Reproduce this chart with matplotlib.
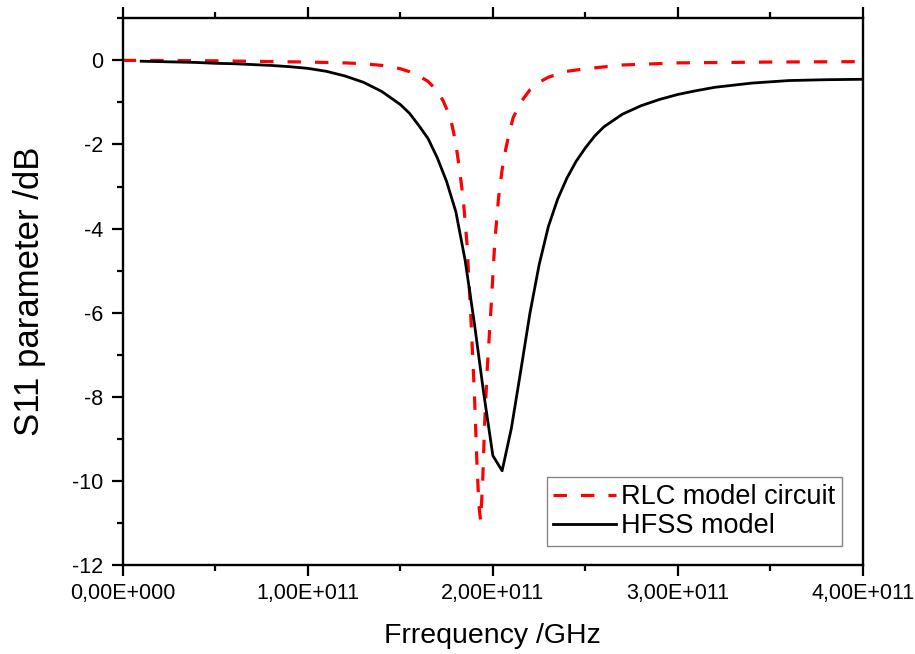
import matplotlib
matplotlib.use("Agg")
import matplotlib.pyplot as plt
from matplotlib.ticker import FuncFormatter, MultipleLocator
import numpy as np

plt.rcParams['font.family'] = ['Liberation Sans', 'DejaVu Sans']
plt.rcParams['axes.unicode_minus'] = False

# RLC equivalent circuit response (frequency in units of 1e11 Hz, S11 in dB)
rlc_freq = [0.00, 0.50, 1.00, 1.20, 1.30, 1.40, 1.45, 1.50, 1.55, 1.60, 1.65,
            1.70, 1.73, 1.76, 1.78, 1.80, 1.82, 1.84, 1.86, 1.88, 1.90, 1.915,
            1.925, 1.934, 1.945, 1.955, 1.97, 1.99, 2.01, 2.03, 2.05, 2.07,
            2.09, 2.11, 2.15, 2.20, 2.25, 2.30, 2.40, 2.50, 2.70, 3.00, 3.50,
            4.00]
rlc_s11 = [0.00, -0.01, -0.04, -0.06, -0.08, -0.12, -0.15, -0.20, -0.27, -0.37,
           -0.50, -0.73, -0.95, -1.25, -1.55, -1.98, -2.60, -3.30, -4.35, -6.00,
           -7.90, -9.70, -10.60, -10.95, -10.00, -8.70, -7.30, -5.90, -4.35,
           -3.30, -2.60, -2.10, -1.70, -1.36, -1.00, -0.70, -0.52, -0.40, -0.26,
           -0.20, -0.11, -0.06, -0.04, -0.03]

# HFSS full-wave simulation
hfss_freq = [0.10, 0.20, 0.30, 0.40, 0.50, 0.60, 0.70, 0.80, 0.90, 1.00, 1.10,
             1.20, 1.30, 1.40, 1.50, 1.55, 1.60, 1.65, 1.70, 1.75, 1.80, 1.85,
             1.90, 1.95, 2.00, 2.05, 2.10, 2.15, 2.20, 2.25, 2.30, 2.35, 2.40,
             2.45, 2.50, 2.55, 2.60, 2.70, 2.80, 2.90, 3.00, 3.10, 3.20, 3.40,
             3.60, 3.80, 4.00]
hfss_s11 = [-0.02, -0.03, -0.04, -0.05, -0.07, -0.08, -0.10, -0.12, -0.15,
            -0.19, -0.26, -0.37, -0.52, -0.74, -1.05, -1.26, -1.55, -1.86,
            -2.32, -2.88, -3.60, -4.75, -6.25, -7.90, -9.40, -9.76, -8.75,
            -7.40, -6.02, -4.86, -3.95, -3.30, -2.80, -2.40, -2.08, -1.80,
            -1.58, -1.28, -1.08, -0.93, -0.81, -0.72, -0.64, -0.54, -0.48,
            -0.46, -0.45]

labels = ["RLC model circuit", "HFSS model"]

fig = plt.figure(figsize=(9.15, 6.54), dpi=100)
ax = fig.add_axes([0.1341, 0.1361, 0.8091, 0.8359])

ax.plot(np.array(rlc_freq) * 1e11, rlc_s11, color='#ff0000', lw=2.3,
        dashes=(4.2, 4.4), label=labels[0])
ax.plot(np.array(hfss_freq) * 1e11, hfss_s11, color='black', lw=2.0,
        label=labels[1])

ax.set_xlim(0, 4e11)
ax.set_ylim(-12, 1)

def sci_comma(v, pos):
    if v == 0:
        return "0,00E+000"
    exp = int(np.floor(np.log10(abs(v))))
    mant = v / 10 ** exp
    return f"{mant:.2f}".replace('.', ',') + f"E+{exp:03d}"

ax.xaxis.set_major_locator(MultipleLocator(1e11))
ax.xaxis.set_minor_locator(MultipleLocator(0.5e11))
ax.xaxis.set_major_formatter(FuncFormatter(sci_comma))
ax.yaxis.set_major_locator(MultipleLocator(2))
ax.yaxis.set_minor_locator(MultipleLocator(1))

for s in ax.spines.values():
    s.set_linewidth(1.7)

ax.tick_params(axis='both', which='both', direction='out', width=1.6,
               top=True, right=False, labelsize=15.5)
ax.tick_params(axis='both', which='major', length=8)
ax.tick_params(axis='both', which='minor', length=4.3)
ax.tick_params(axis='x', which='major', pad=5)
ax.tick_params(axis='y', which='major', pad=6)

ax.set_xlabel("Frrequency /GHz", fontsize=20.5, labelpad=14)
ax.set_ylabel("S11 parameter /dB", fontsize=25, labelpad=19)

leg = ax.legend(loc='lower right', fontsize=19.5, fancybox=False,
                frameon=True, handlelength=2.3, handletextpad=0.2,
                borderpad=0.25, labelspacing=0.12, borderaxespad=0,
                bbox_to_anchor=(0.9716, 0.0347))
leg.get_frame().set_edgecolor('#666666')
leg.get_frame().set_linewidth(1.0)

fig.savefig("out.png", dpi=100)
